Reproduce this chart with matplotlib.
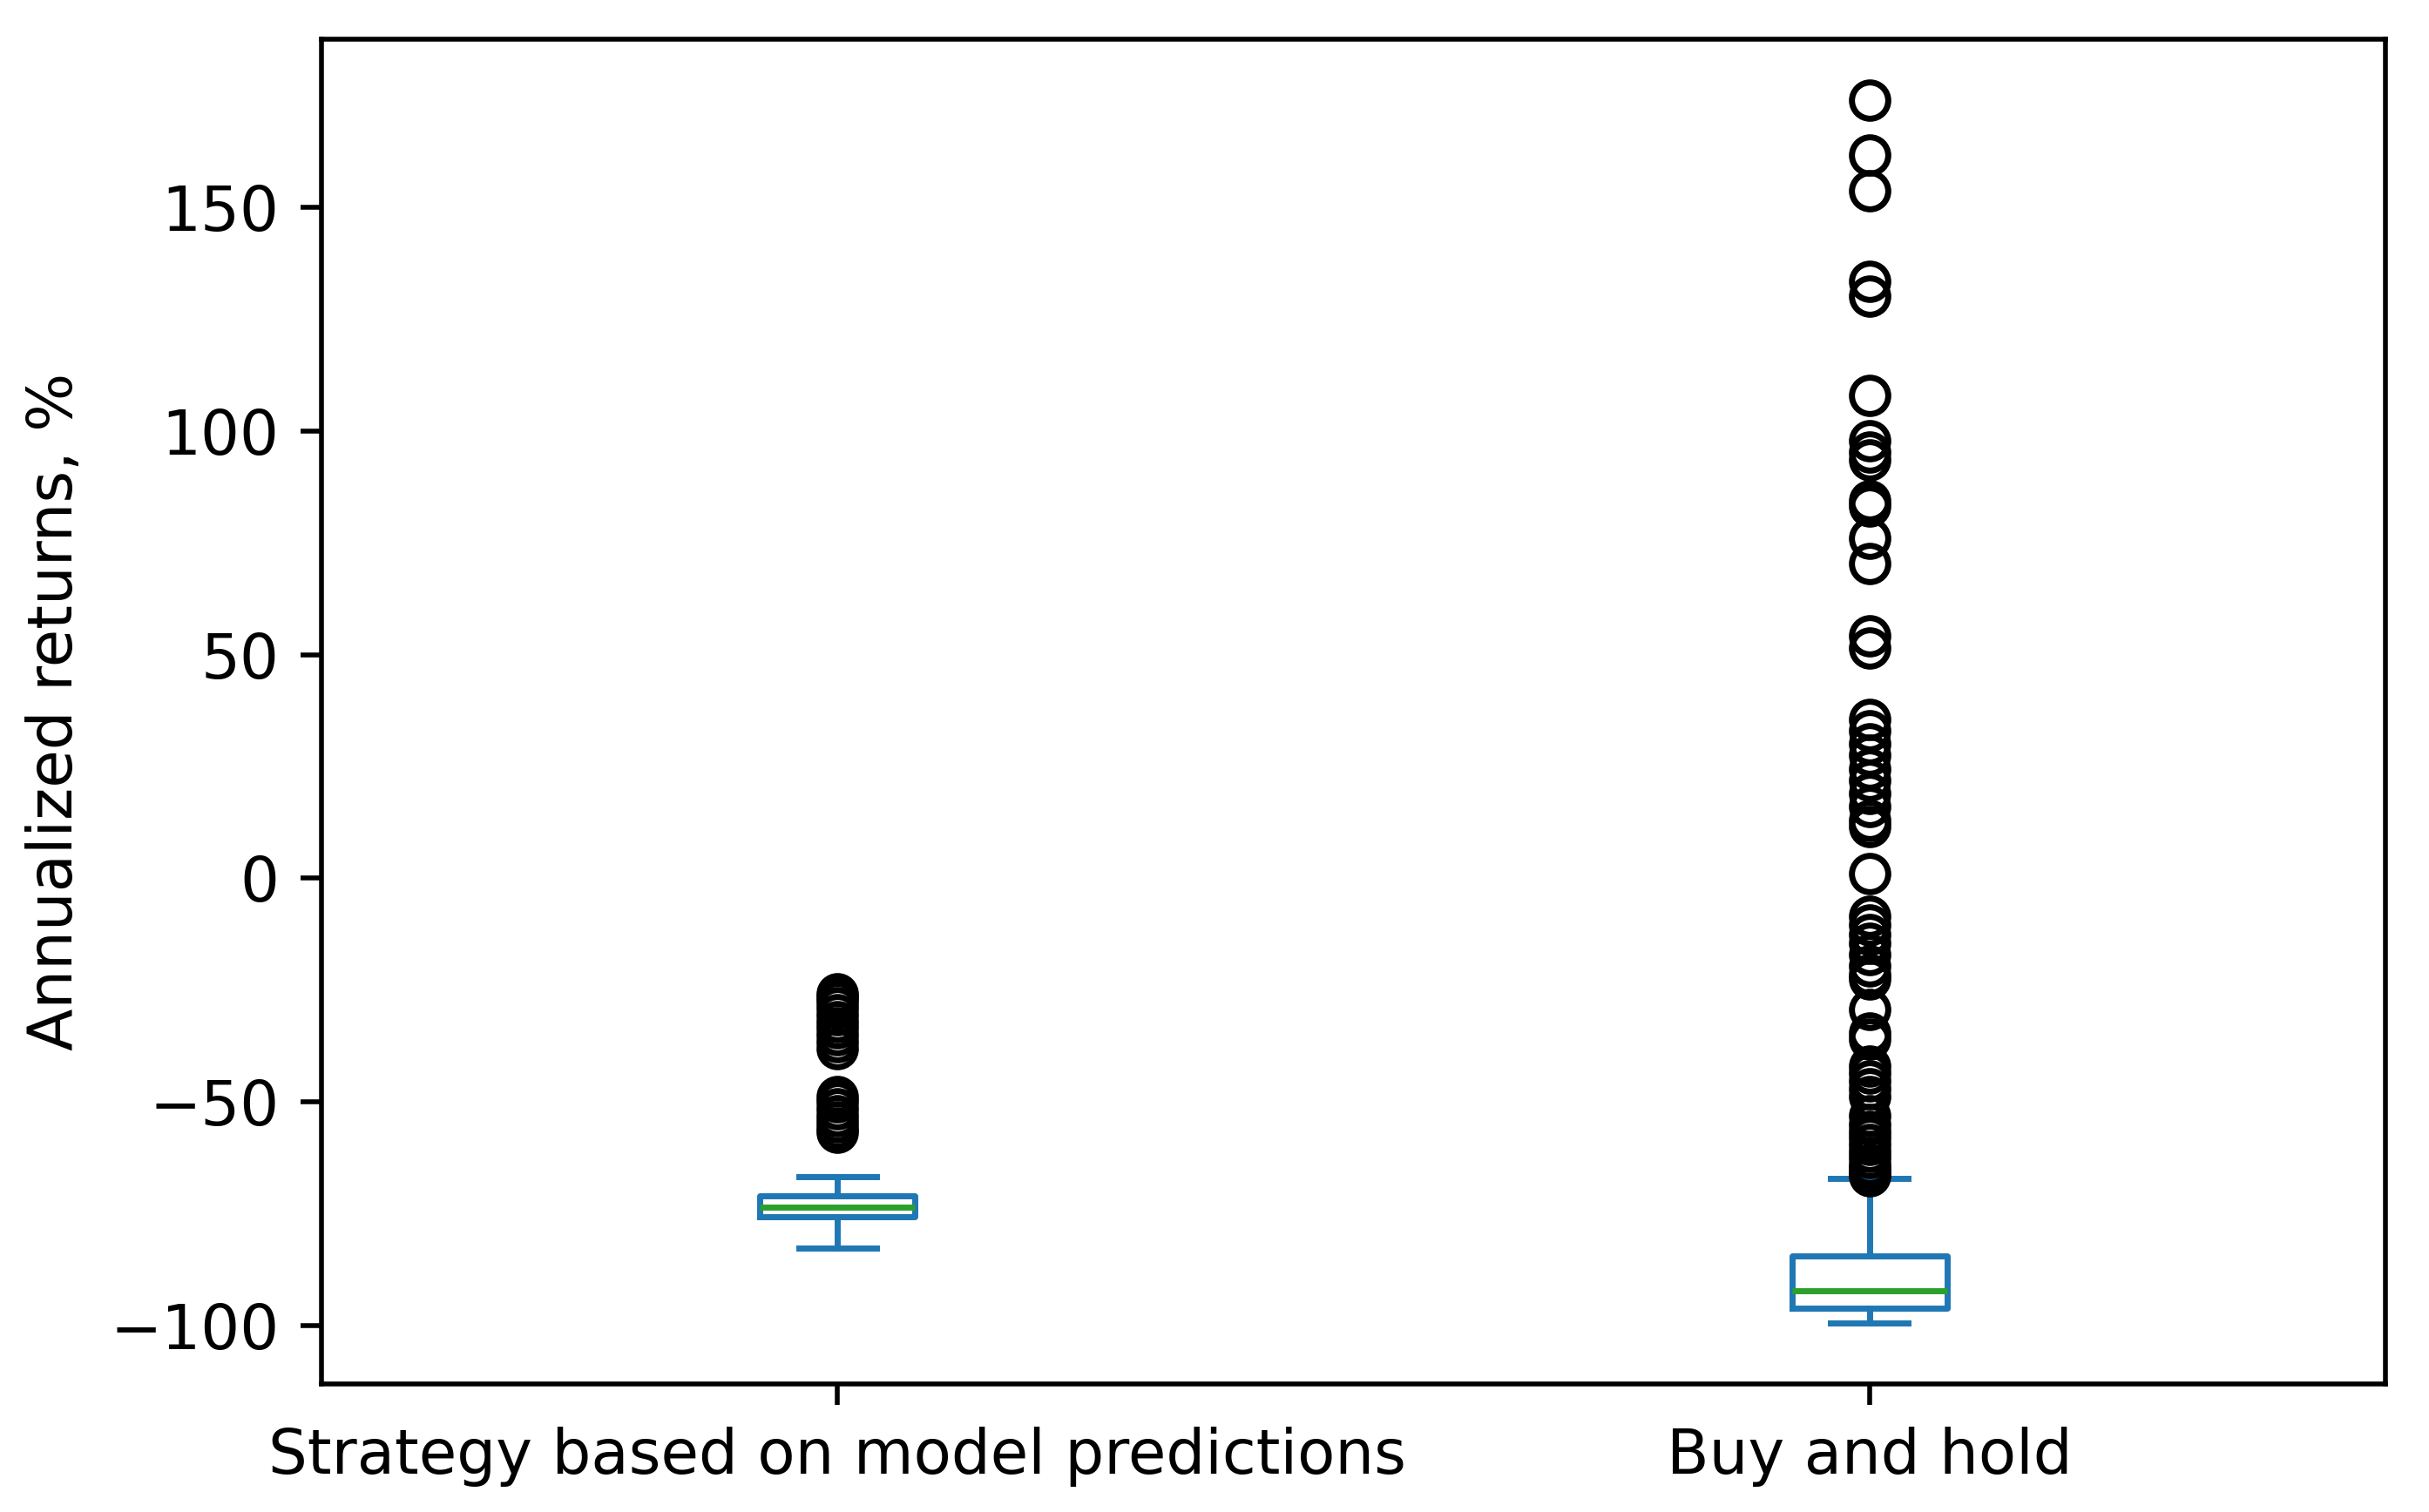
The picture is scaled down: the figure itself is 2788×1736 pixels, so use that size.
import matplotlib
matplotlib.use("Agg")
import matplotlib.pyplot as plt

categories = ["Strategy based on model predictions", "Buy and hold"]

# box statistics (annualized returns, %)
whisker_low = [-82.6, -99.4]
q1 = [-75.7, -96.1]
median = [-73.6, -92.2]
q3 = [-71.0, -84.4]
whisker_high = [-66.8, -67.1]

strategy_fliers = [-25.8, -26.5, -27.5, -29.0, -30.5, -32.0, -33.5, -35.0, -36.5, -38.0,
                   -48.8, -50.0, -51.5, -53.0, -54.5, -55.8, -56.8]
buyhold_fliers = [174.1, 161.7, 153.8, 133.6, 130.3, 108.1, 97.9, 95.3, 93.5, 84.5, 83.2,
                  76.1, 70.4, 54.3, 51.5, 35.5, 33.0, 30.0, 27.5, 24.5, 22.0, 19.0, 16.0,
                  13.0, 11.5, 1.0, -8.5, -10.5, -12.5, -14.5, -17.0, -19.5, -21.5, -22.5,
                  -29.3, -34.6, -36.0, -41.9, -43.5, -45.3, -47.0, -48.7, -53.0, -55.0,
                  -56.5, -58.0, -59.5, -61.0, -62.5, -64.0, -65.0, -66.0, -66.6]
fliers = [strategy_fliers, buyhold_fliers]

stats = []
for i, lab in enumerate(categories):
    stats.append(dict(label=lab, whislo=whisker_low[i], q1=q1[i], med=median[i],
                      q3=q3[i], whishi=whisker_high[i], fliers=fliers[i]))

plt.rcParams["font.size"] = 10.2

dpi = 500
fig = plt.figure(figsize=(2788 / dpi, 1736 / dpi), dpi=dpi)
ax = fig.add_axes([369 / 2788, (1736 - 1589) / 1736, (2738 - 369) / 2788, (1589 - 44.5) / 1736])

blue = "#1f77b4"
green = "#2ca02c"
ax.bxp(stats,
       boxprops=dict(color=blue),
       whiskerprops=dict(color=blue),
       capprops=dict(color=blue),
       medianprops=dict(color=green),
       flierprops=dict(marker="o", markerfacecolor="none", markeredgecolor="black"))

ax.set_ylabel("Annualized returns, %")
fig.savefig("out.png", dpi=dpi)
